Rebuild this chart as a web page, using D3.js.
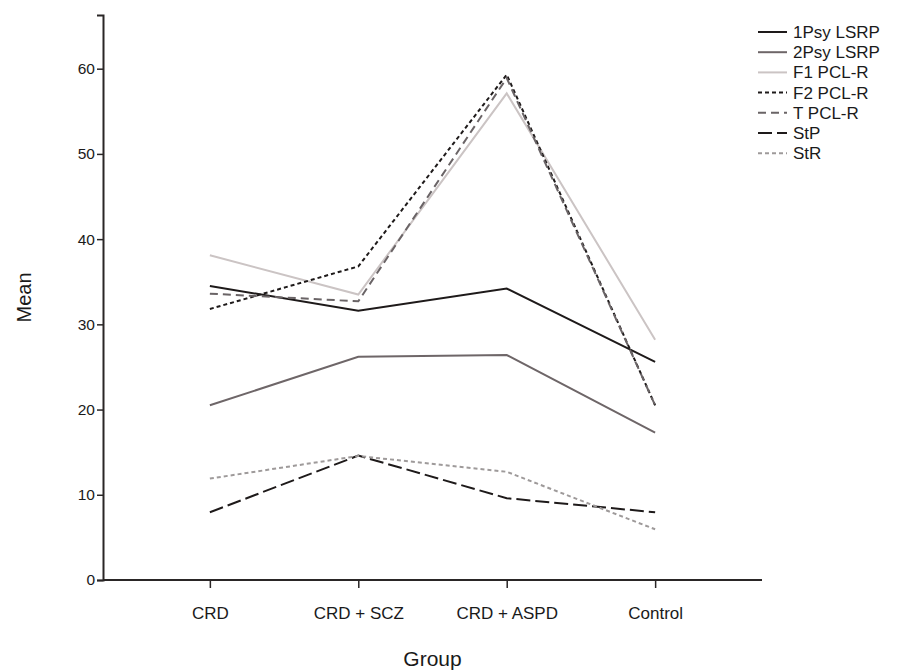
<!DOCTYPE html>
<html>
<head>
<meta charset="utf-8">
<script src="https://cdn.jsdelivr.net/npm/d3@7/dist/d3.min.js"></script>
<style>
  html, body { margin: 0; padding: 0; background: #ffffff; }
  text { font-family: "Liberation Sans", Arial, sans-serif; fill: #1a1a1a; }
</style>
</head>
<body>
<svg id="chart" width="898" height="670"></svg>
<script>
const categories = ["CRD", "CRD + SCZ", "CRD + ASPD", "Control"];
const yTicks = [0, 10, 20, 30, 40, 50, 60];
const seriesNames = ["1Psy LSRP", "2Psy LSRP", "F1 PCL-R", "F2 PCL-R", "T PCL-R", "StP", "StR"];
const psy1 = [34.5, 31.6, 34.2, 25.6];
const psy2 = [20.5, 26.2, 26.4, 17.3];
const f1 = [38.1, 33.5, 57.1, 28.2];
const f2 = [31.8, 36.8, 59.3, 20.5];
const tpcl = [33.6, 32.7, 58.9, 20.5];
const stp = [7.95, 14.6, 9.6, 7.95];
const str = [11.9, 14.55, 12.7, 5.95];

const seriesValues = [psy1, psy2, f1, f2, tpcl, stp, str];
const styles = [
  { color: "#1e1a1a", dash: null, w: 2 },
  { color: "#6e6668", dash: null, w: 2 },
  { color: "#cbc4c4", dash: null, w: 2 },
  { color: "#1e1a1a", dash: "4,3", w: 2 },
  { color: "#6a6466", dash: "8,5", w: 2 },
  { color: "#1e1a1a", dash: "14,5", w: 2 },
  { color: "#9e9a9a", dash: "4,3", w: 2 }
];

const svg = d3.select("#chart");
const plotLeft = 103, plotRight = 762, plotTop = 15, plotBottom = 580;

const x = d3.scalePoint().domain(categories).range([plotLeft, plotRight]).padding(0.72);
const y = d3.scaleLinear().domain([0, 66.3]).range([plotBottom, plotTop]);

// axes
const yAxis = svg.append("g").attr("transform", `translate(${plotLeft},0)`)
  .call(d3.axisLeft(y).tickValues(yTicks).tickSize(6).tickPadding(2).tickFormat(d3.format("d")));
yAxis.select(".domain").attr("stroke", "#2a2626").attr("stroke-width", 2);
yAxis.selectAll(".tick line").attr("stroke", "#2a2626").attr("stroke-width", 1.5);
yAxis.selectAll(".tick text").style("font-size", "15.5px").attr("fill", "#1a1a1a");

const xAxis = svg.append("g").attr("transform", `translate(0,${plotBottom})`)
  .call(d3.axisBottom(x).tickSize(8).tickPadding(19));
xAxis.select(".domain").attr("stroke", "#2a2626").attr("stroke-width", 2)
  .attr("d", `M${plotLeft},0H${plotRight}`);
xAxis.selectAll(".tick line").attr("stroke", "#2a2626").attr("stroke-width", 1.5);
xAxis.selectAll(".tick text").style("font-size", "17px").attr("fill", "#1a1a1a");

// axis titles
svg.append("text").attr("transform", `translate(31,${(plotTop + plotBottom) / 2}) rotate(-90)`)
  .attr("text-anchor", "middle").style("font-size", "20px").text("Mean");
svg.append("text").attr("x", x("CRD + SCZ") + (x("CRD + ASPD") - x("CRD + SCZ")) / 2).attr("y", 666)
  .attr("text-anchor", "middle").style("font-size", "21px").text("Group");

// lines
const line = d3.line().x((d, i) => x(categories[i])).y(d => y(d));
seriesValues.forEach((vals, k) => {
  const s = styles[k];
  svg.append("path").datum(vals)
    .attr("d", line)
    .attr("fill", "none")
    .attr("stroke", s.color)
    .attr("stroke-width", s.w)
    .attr("stroke-dasharray", s.dash)
    .attr("stroke-linejoin", "miter");
});

// legend
const leg = svg.append("g");
seriesNames.forEach((name, k) => {
  const s = styles[k];
  const yy = 32 + k * 20.2;
  leg.append("line").attr("x1", 758).attr("x2", 787).attr("y1", yy).attr("y2", yy)
    .attr("stroke", s.color).attr("stroke-width", s.w).attr("stroke-dasharray", s.dash);
  leg.append("text").attr("x", 793).attr("y", yy + 6).style("font-size", "17px").text(name);
});
</script>
</body>
</html>
